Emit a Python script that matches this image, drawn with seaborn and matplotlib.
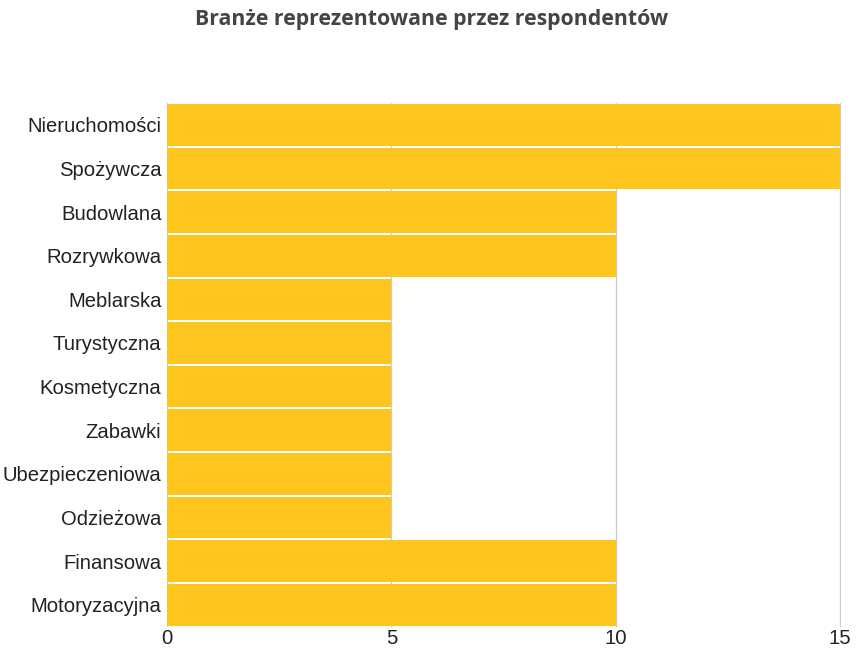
import matplotlib
matplotlib.use("Agg")
import matplotlib.pyplot as plt
import seaborn as sns
import pandas as pd

categories = ["Nieruchomości", "Spożywcza", "Budowlana", "Rozrywkowa", "Meblarska",
              "Turystyczna", "Kosmetyczna", "Zabawki", "Ubezpieczeniowa", "Odzieżowa",
              "Finansowa", "Motoryzacyjna"]
values = [15, 15, 10, 10, 5, 5, 5, 5, 5, 5, 10, 10]
xticks = [0, 5, 10, 15]

sns.set_theme(style="white")
plt.rcParams['font.family'] = ['Liberation Sans', 'DejaVu Sans']

df = pd.DataFrame({"cat": categories, "val": values})
fig = plt.figure(figsize=(8.63, 6.52), dpi=100)
ax = fig.add_axes([0.1935, 0.039, 0.7810, 0.803])
ax.set_axisbelow(True)
ax.grid(axis="x", color="#cccccc", linewidth=1)
sns.barplot(data=df, y="cat", x="val", color="#FDC51E", saturation=1, width=0.955,
            linewidth=0, ax=ax, orient="h")
ax.set_xlim(0, 15.02)
ax.set_ylim(len(categories) - 0.5, -0.5)
ax.set_xticks(xticks)
ax.set_xticklabels([str(t) for t in xticks])
ax.set_xlabel("")
ax.set_ylabel("")
for s in ax.spines.values():
    s.set_visible(False)
ax.tick_params(axis="both", length=0, labelsize=14.6, labelcolor="#222222")
ax.tick_params(axis="y", pad=4)
ax.tick_params(axis="x", pad=2)
fig.text(0.5, 0.970, "Branże reprezentowane przez respondentów", ha="center", va="center",
         fontsize=15.3, fontweight="bold", color="#444444", family=["Open Sans", "DejaVu Sans"])
fig.savefig("out.png", dpi=100)
